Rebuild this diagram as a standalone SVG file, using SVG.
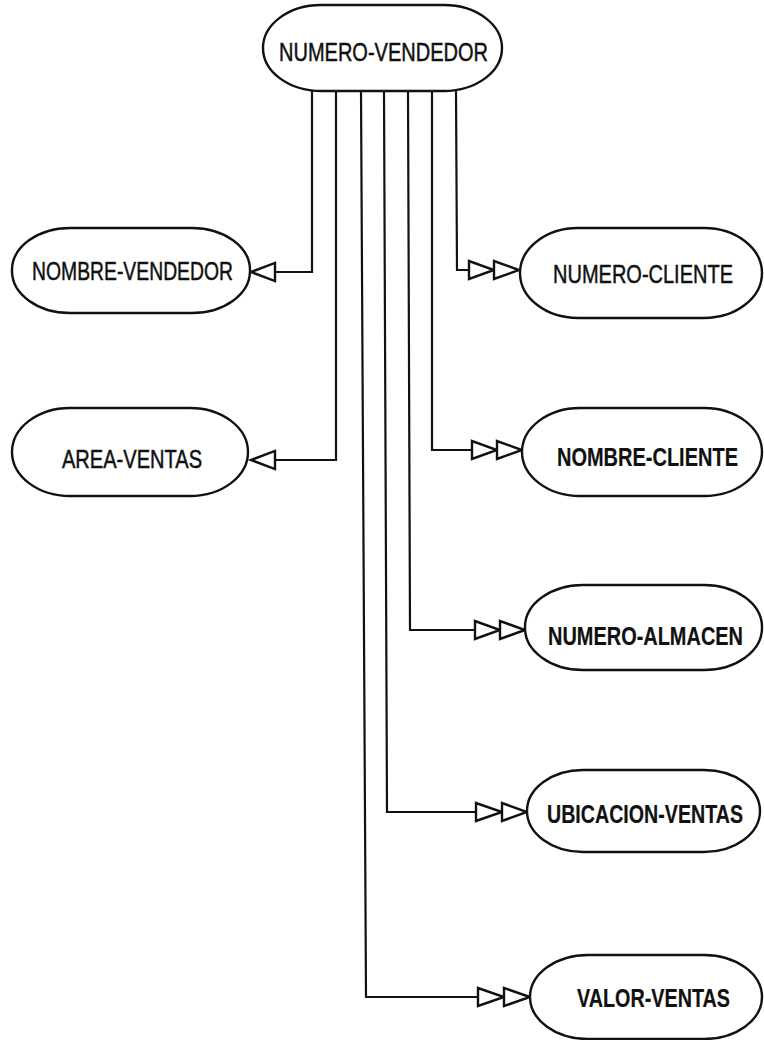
<svg xmlns="http://www.w3.org/2000/svg" width="764" height="1040" viewBox="0 0 764 1040">
<style>
.n{fill:#fff;stroke:#111;stroke-width:2.4}
.t{font-family:"Liberation Sans",Arial,sans-serif;font-size:26px;fill:#111;stroke:#111;stroke-width:0.5}
.b{font-weight:bold;stroke-width:0.2}
.c{fill:none;stroke:#111;stroke-width:2.2}
.a{fill:#fff;stroke:#111;stroke-width:2.4;stroke-linejoin:miter}
</style>
<rect width="764" height="1040" fill="#fff"/>
<g id="connectors">
<path class="c" d="M312 91V272H275"/>
<path class="c" d="M336 91V460H275"/>
<path class="c" d="M361 91L366 997H478"/>
<path class="c" d="M384 91L387 812H476"/>
<path class="c" d="M408 91L410 630H475"/>
<path class="c" d="M432 91V450H472"/>
<path class="c" d="M456 91L457 270H469"/>
<polygon class="a" points="275,263 275,281 251,272"/>
<polygon class="a" points="275,451 275,469 251,460"/>
<polygon class="a" points="469,261 469,279 494,270"/><polygon class="a" points="494,261 494,279 519,270"/>
<polygon class="a" points="472,441 472,459 497,450"/><polygon class="a" points="497,441 497,459 522,450"/>
<polygon class="a" points="475,621 475,639 500,630"/><polygon class="a" points="500,621 500,639 525,630"/>
<polygon class="a" points="476,803 476,821 502,812"/><polygon class="a" points="502,803 502,821 527,812"/>
<polygon class="a" points="478,988 478,1006 504,997"/><polygon class="a" points="504,988 504,1006 530,997"/>
</g>
<g id="numero-vendedor"><rect class="n" x="263" y="5" width="239" height="86" rx="58" ry="43"/><text class="t" transform="translate(279 61) scale(0.75 1)" textLength="278.7" lengthAdjust="spacingAndGlyphs">NUMERO-VENDEDOR</text></g>
<g id="nombre-vendedor"><rect class="n" x="12" y="228" width="238" height="85" rx="58" ry="42"/><text class="t" transform="translate(32 280) scale(0.75 1)" textLength="268" lengthAdjust="spacingAndGlyphs">NOMBRE-VENDEDOR</text></g>
<g id="area-ventas"><rect class="n" x="12" y="408" width="236" height="88" rx="58" ry="44"/><text class="t" transform="translate(62 468) scale(0.75 1)" textLength="186.7" lengthAdjust="spacingAndGlyphs">AREA-VENTAS</text></g>
<g id="numero-cliente"><rect class="n" x="520" y="228" width="242" height="90" rx="58" ry="45"/><text class="t" transform="translate(553 283) scale(0.75 1)" textLength="240" lengthAdjust="spacingAndGlyphs">NUMERO-CLIENTE</text></g>
<g id="nombre-cliente"><rect class="n" x="522" y="408" width="240" height="88" rx="58" ry="44"/><text class="t b" transform="translate(557 466) scale(0.75 1)" textLength="241.3" lengthAdjust="spacingAndGlyphs">NOMBRE-CLIENTE</text></g>
<g id="numero-almacen"><rect class="n" x="525" y="585" width="237" height="85" rx="58" ry="42"/><text class="t b" transform="translate(548 645) scale(0.75 1)" textLength="260" lengthAdjust="spacingAndGlyphs">NUMERO-ALMACEN</text></g>
<g id="ubicacion-ventas"><rect class="n" x="527" y="770" width="233" height="82" rx="56" ry="41"/><text class="t b" transform="translate(547 823) scale(0.75 1)" textLength="261.3" lengthAdjust="spacingAndGlyphs">UBICACION-VENTAS</text></g>
<g id="valor-ventas"><rect class="n" x="530" y="955" width="232" height="84" rx="58" ry="42"/><text class="t b" transform="translate(577 1007) scale(0.75 1)" textLength="204" lengthAdjust="spacingAndGlyphs">VALOR-VENTAS</text></g>
</svg>
